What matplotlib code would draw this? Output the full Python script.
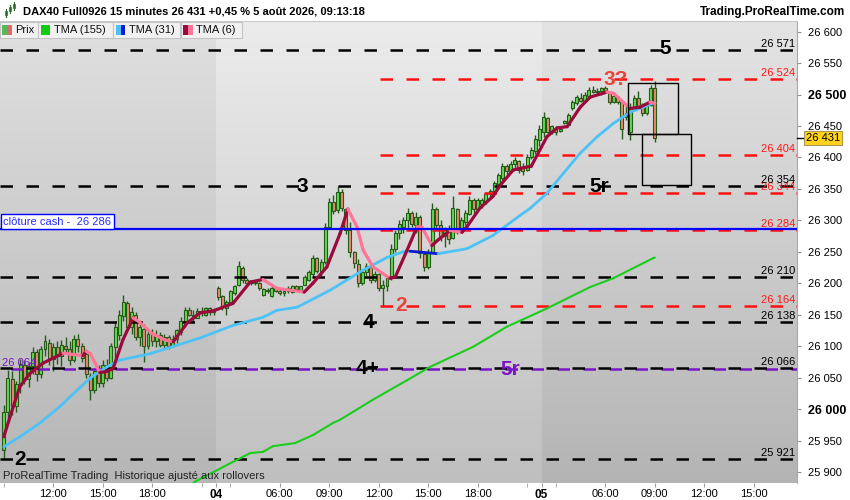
import numpy as np
import matplotlib
matplotlib.use("Agg")
import matplotlib.pyplot as plt
import matplotlib.transforms as mtransforms
from matplotlib.patches import Rectangle
from matplotlib.collections import LineCollection

plt.rcParams['font.family'] = ['Liberation Sans', 'DejaVu Sans']

# ---- bougies 15 min, index 0 = lundi 09:00 ----
opens = [25935, 25995, 26048, 26005, 26038, 26070, 26048, 26068, 26090, 26055,
         26095, 26105, 26080, 26098, 26085, 26100, 26095, 26078, 26112, 26100,
         26088, 26052, 26030, 26060, 26042, 26070, 26050, 26098, 26118, 26148,
         26168, 26130, 26150, 26115, 26128, 26100, 26120, 26108, 26118, 26102,
         26115, 26100, 26112, 26122, 26140, 26158, 26150, 26145, 26156, 26150,
         26160, 26155,
         26192, 26180, 26160, 26170, 26184, 26198, 26225, 26205, 26200, 26202,
         26200, 26182, 26190, 26180, 26192, 26188, 26185, 26188, 26186, 26196,
         26189, 26198, 26206, 26215, 26240, 26218, 26234, 26290, 26330, 26316,
         26345, 26318, 26285, 26250, 26230, 26200, 26218, 26226, 26205, 26214,
         26192, 26196, 26208, 26255, 26280, 26290, 26300, 26312, 26292, 26305,
         26246, 26226, 26250, 26318, 26292, 26275, 26285, 26272, 26318, 26285,
         26298, 26310, 26332, 26318, 26326, 26330, 26342, 26346, 26358, 26368,
         26386, 26378, 26390, 26394, 26385, 26380, 26400, 26410, 26428,
         26440, 26462, 26440, 26446, 26442, 26455, 26452, 26478, 26486, 26494,
         26490, 26498, 26508, 26504, 26505, 26510, 26502, 26488, 26496, 26488,
         26470, 26440, 26478, 26495, 26482, 26470, 26484, 26510]
highs = [26006, 26062, 26060, 26045, 26080, 26078, 26075, 26098, 26095, 26100,
         26118, 26112, 26105, 26108, 26110, 26115, 26108, 26118, 26120, 26105,
         26092, 26058, 26066, 26070, 26078, 26080, 26105, 26137, 26158, 26181,
         26172, 26162, 26155, 26140, 26135, 26126, 26128, 26125, 26122, 26120,
         26118, 26118, 26128, 26146, 26162, 26162, 26158, 26160, 26162, 26162,
         26162, 26160,
         26196, 26182, 26173, 26190, 26198, 26235, 26228, 26208, 26204, 26205,
         26202, 26193, 26192, 26195, 26194, 26192, 26190, 26195, 26198, 26197,
         26196, 26213, 26221, 26245, 26242, 26238, 26296, 26336, 26340, 26354,
         26350, 26320, 26297, 26252, 26238, 26222, 26232, 26228, 26220, 26216,
         26205, 26212, 26262, 26285, 26300, 26305, 26320, 26315, 26314, 26308,
         26252, 26254, 26328, 26322, 26300, 26290, 26292, 26338, 26320, 26306,
         26316, 26338, 26335, 26336, 26336, 26345, 26350, 26363, 26376, 26392,
         26390, 26395, 26400, 26396, 26392, 26405, 26416, 26436, 26452,
         26472, 26465, 26452, 26450, 26448, 26460, 26470, 26492, 26500, 26502,
         26504, 26512, 26513, 26510, 26512, 26514, 26504, 26502, 26498, 26490,
         26486, 26486, 26500, 26505, 26486, 26488, 26516, 26521]
lows = [25921, 25985, 25990, 25995, 26025, 26040, 26035, 26055, 26045, 26050,
        26085, 26070, 26060, 26072, 26068, 26088, 26070, 26075, 26090, 26075,
        26050, 26014, 26025, 26035, 26035, 26045, 26048, 26080, 26110, 26140,
        26125, 26120, 26110, 26100, 26075, 26095, 26100, 26098, 26098, 26095,
        26095, 26098, 26105, 26118, 26130, 26148, 26138, 26145, 26148, 26148,
        26150, 26150,
        26173, 26158, 26149, 26168, 26181, 26196, 26200, 26196, 26198, 26198,
        26190, 26180, 26185, 26178, 26186, 26182, 26180, 26184, 26185, 26190,
        26188, 26198, 26204, 26210, 26216, 26212, 26230, 26286, 26310, 26312,
        26315, 26278, 26242, 26225, 26194, 26198, 26212, 26200, 26202, 26188,
        26164, 26188, 26205, 26250, 26270, 26280, 26285, 26290, 26280, 26240,
        26220, 26222, 26248, 26288, 26268, 26258, 26262, 26270, 26278, 26280,
        26292, 26308, 26312, 26316, 26320, 26326, 26334, 26344, 26355, 26364,
        26372, 26376, 26382, 26375, 26372, 26378, 26398, 26406, 26418,
        26432, 26436, 26438, 26436, 26440, 26454, 26450, 26476, 26484, 26488,
        26488, 26494, 26502, 26500, 26500, 26502, 26485, 26486, 26485, 26430,
        26460, 26428, 26474, 26478, 26466, 26468, 26482, 26425]
closes = [25995, 26050, 26005, 26040, 26072, 26048, 26068, 26090, 26055, 26095,
          26108, 26080, 26098, 26085, 26102, 26095, 26078, 26112, 26100, 26082,
          26055, 26030, 26060, 26042, 26070, 26050, 26100, 26130, 26150, 26170,
          26130, 26155, 26115, 26130, 26100, 26120, 26108, 26118, 26102, 26115,
          26100, 26112, 26125, 26140, 26158, 26150, 26145, 26156, 26152, 26160,
          26155, 26158,
          26178, 26162, 26170, 26188, 26196, 26228, 26205, 26200, 26202, 26200,
          26192, 26191, 26188, 26192, 26188, 26185, 26188, 26192, 26196, 26191,
          26195, 26210, 26218, 26240, 26220, 26234, 26290, 26330, 26315, 26345,
          26320, 26285, 26250, 26232, 26200, 26218, 26228, 26205, 26215, 26192,
          26198, 26208, 26255, 26280, 26295, 26300, 26312, 26295, 26305, 26248,
          26226, 26250, 26318, 26292, 26275, 26285, 26270, 26320, 26285, 26300,
          26312, 26332, 26318, 26332, 26333, 26342, 26346, 26360, 26372, 26386,
          26378, 26390, 26396, 26380, 26378, 26400, 26412, 26430, 26445,
          26465, 26440, 26450, 26440, 26446, 26458, 26468, 26488, 26496, 26490,
          26500, 26508, 26504, 26506, 26510, 26506, 26488, 26498, 26488, 26445,
          26465, 26480, 26495, 26482, 26470, 26484, 26510, 26431]

# moyennes mobiles (index de barre, valeur)
tma6_x = [0, 2.3, 3.9, 6.4, 9.5, 14.4, 16.5, 19.2, 20.0, 21.0, 23.3, 25.0, 26.5,
          28.9, 31.4, 33.0, 36.0, 39.1, 41.1, 44.5, 47.6, 50.8, 55.6, 59.8, 62.9,
          66.3, 72.9, 75.0, 78.4, 81.6, 83.5, 85.7, 87.2, 89.6, 93.7, 95.0, 97.9,
          100.3, 101.5, 103.9, 105.4, 108.3, 111.2, 112.4, 115.6, 118.7, 120.5,
          123.6, 125.5, 128.0, 131.8, 134.3, 136.7, 139.9, 142.3, 146.4, 148.0,
          150.3, 152.0, 154.4, 156.8, 158.0]
tma6_y = [25956, 26004, 26036, 26057, 26073, 26089, 26087, 26085, 26092, 26088,
          26058, 26060, 26064, 26110, 26145, 26138, 26120, 26110, 26107, 26137,
          26153, 26156, 26168, 26202, 26206, 26192, 26186, 26200, 26226, 26279,
          26318, 26290, 26253, 26226, 26208, 26210, 26253, 26290, 26289, 26260,
          26269, 26284, 26281, 26290, 26320, 26338, 26356, 26380, 26383, 26386,
          26433, 26447, 26449, 26480, 26496, 26504, 26502, 26488, 26478, 26480,
          26488, 26486]
tma31_x = [0, 3.9, 8.8, 13.6, 17.8, 20.9, 25.0, 28.2, 35.5, 47.6, 55.6, 62.9,
           66.3, 71.2, 79.2, 87.2, 93.0, 96.9, 98.6, 102.0, 105.4, 107.1, 112.4,
           118.7, 125.3, 127.7, 131.8, 135.7, 139.9, 144.0, 147.9, 152.0, 155.2,
           157.3, 158.0]
tma31_y = [25940, 25956, 25978, 26004, 26030, 26049, 26067, 26078, 26088, 26113,
           26133, 26146, 26157, 26162, 26189, 26221, 26241, 26250, 26251, 26249,
           26247, 26249, 26255, 26276, 26308, 26319, 26343, 26374, 26407, 26433,
           26454, 26472, 26480, 26486, 26487]
tma155_x = [44.0, 46.5, 55.6, 59.8, 62.9, 65.3, 70.7, 75.1, 79.9, 81.6, 89.6,
            97.9, 103.4, 113.9, 122.1, 131.8, 142.3, 147.9, 157.6, 158.0]
tma155_y = [25872, 25885, 25916, 25930, 25932, 25941, 25946, 25959, 25978, 25983,
            26015, 26046, 26067, 26099, 26131, 26160, 26194, 26208, 26240, 26241]

# axe des temps
time_pos = [12, 24, 36, 51.5, 67, 79, 91, 103, 115, 130.5, 146, 158, 170, 182]
time_labels = ['12:00', '15:00', '18:00', '04', '06:00', '09:00', '12:00',
               '15:00', '18:00', '05', '06:00', '09:00', '12:00', '15:00']
extra_ticks = [0, 48, 55, 127, 134]
day_bounds = [51.5, 130.5]

# niveaux
black_levels = [26571, 26354, 26210, 26138, 26066, 25921]
red_levels = [26524, 26404, 26344, 26284, 26164]
red_start = 91.3
purple_level = 26064
cash_close = 26286

# annotations
notes_txt = ['5', '3?', '5r', '3', '2', '4', '4+', '5r', '2']
notes_x = [160.5, 148.6, 144.5, 72.4, 96.4, 88.6, 88.4, 122.9, 3.9]
notes_y = [26573, 26524, 26354, 26354, 26165, 26138, 26064, 26063, 25920]
notes_col = ['black', '#e8443a', 'black', 'black', '#e8443a', 'black', 'black',
             '#7b16c8', 'black']

# rectangles
box_x0 = [151.5, 154.8]
box_x1 = [163.7, 166.7]
box_lo = [26437, 26357]
box_hi = [26518, 26437]

yticks = list(range(25900, 26601, 50))


def fmt(v):
    return f"{int(v):,}".replace(',', ' ')


fig = plt.figure(figsize=(8.5, 5), dpi=100, facecolor='white')
ax = fig.add_axes([0, 17 / 500, 797 / 850, 462 / 500])
xmin, xmax = -0.92, 192.5
ymin, ymax = 25882.5, 26617

# fond degradé par journée
bounds = [xmin] + day_bounds + [xmax]
tops = ['#e0e0e0', '#ececec', '#e4e4e4']
bots = ['#b6b6b6', '#bfbfbf', '#b4b4b4']
for k in range(3):
    t = np.array(matplotlib.colors.to_rgb(tops[k]))
    b = np.array(matplotlib.colors.to_rgb(bots[k]))
    f = np.linspace(0, 1, 200)[:, None]
    grad = (t * (1 - f) + b * f)[:, None, :]
    ax.imshow(grad, extent=(bounds[k], bounds[k + 1], ymin, ymax), aspect='auto',
              origin='upper', zorder=0, interpolation='bilinear')
ax.set_xlim(xmin, xmax)
ax.set_ylim(ymin, ymax)

# bougies
o = np.array(opens)
h = np.array(highs)
l = np.array(lows)
c = np.array(closes)
idx = np.arange(len(o))
up = c >= o
ax.vlines(idx, l, h, color='#265a1a', lw=1, zorder=2)
ax.bar(idx, np.maximum(np.abs(c - o), 1.5), bottom=np.minimum(o, c), width=0.72,
       color=np.where(up, '#63d84f', '#ea8a70'), edgecolor='#265a1a',
       linewidth=0.8, zorder=3)

# niveaux horizontaux
dash = (0, (5, 5.4))
ax.hlines(purple_level, xmin, xmax, color='#7b16c8', lw=1.8, linestyles=[(6, (5, 5.4))], zorder=4)
for lv in red_levels:
    ax.hlines(lv, red_start, xmax, color='#ff1010', lw=1.8, linestyles=[dash], zorder=4)
for lv in black_levels:
    ax.hlines(lv, xmin, xmax, color='black', lw=1.8, linestyles=[dash], zorder=4)


def seg_line(xs, ys, up_col, down_col, lw):
    pts = np.column_stack([xs, ys])
    segs = np.stack([pts[:-1], pts[1:]], axis=1)
    cols = [up_col if b >= a else down_col for a, b in zip(ys[:-1], ys[1:])]
    ax.add_collection(LineCollection(segs, colors=cols, linewidths=lw,
                                     capstyle='round', joinstyle='round', zorder=5))


seg_line(tma155_x, tma155_y, '#1ccc1c', '#1ccc1c', 1.5)
seg_line(tma31_x, tma31_y, '#4cc2f7', '#0a1ad0', 2.0)
seg_line(tma6_x, tma6_y, '#9a0a3c', '#ff7497', 2.3)

ax.axhline(cash_close, color='#0000ff', lw=1.6, zorder=6)

for k in range(len(box_x0)):
    ax.add_patch(Rectangle((box_x0[k], box_lo[k]), box_x1[k] - box_x0[k],
                           box_hi[k] - box_lo[k], fill=False, ec='black', lw=1, zorder=6))

# etiquettes des niveaux
trans_lab = mtransforms.blended_transform_factory(ax.transAxes, ax.transData)
for lv in red_levels:
    ax.annotate(fmt(lv), xy=(1, lv), xycoords=trans_lab, xytext=(-1.5, 2.2),
                textcoords='offset points', ha='right', va='baseline',
                fontsize=8, color='#ff1a1a', zorder=7)
for lv in black_levels:
    ax.annotate(fmt(lv), xy=(1, lv), xycoords=trans_lab, xytext=(-1.5, 2.2),
                textcoords='offset points', ha='right', va='baseline',
                fontsize=8, color='black', zorder=7)
ax.annotate(fmt(purple_level), xy=(0, purple_level), xycoords=trans_lab,
            xytext=(1.5, 2.2), textcoords='offset points', ha='left',
            va='baseline', fontsize=8, color='#7b16c8', zorder=7)
ax.annotate('clôture cash -  ' + fmt(cash_close), xy=(0, cash_close),
            xycoords=trans_lab, xytext=(2.2, 3.2), textcoords='offset points',
            ha='left', va='baseline', fontsize=8, color='#2a2aff', zorder=8,
            bbox=dict(boxstyle='square,pad=0.22', fc='white', ec='#0000ff', lw=1))

for t, x, y, col in zip(notes_txt, notes_x, notes_y, notes_col):
    ax.text(x, y, t, ha='center', va='center', fontsize=15, fontweight='bold',
            color=col, zorder=9)

# axe des prix a droite
ax.yaxis.tick_right()
ax.set_yticks(yticks)
ax.set_yticklabels([fmt(v) for v in yticks])
ax.tick_params(axis='y', length=3, color='#909090', labelsize=8, pad=5)
for lab, v in zip(ax.get_yticklabels(), yticks):
    if v % 500 == 0:
        lab.set_fontweight('bold')
        lab.set_fontsize(9)

ax.set_xticks(time_pos)
ax.set_xticklabels(time_labels)
ax.tick_params(axis='x', length=3, color='#a0a0a0', labelsize=8, pad=1.5)
for lab, t in zip(ax.get_xticklabels(), time_labels):
    if ':' not in t:
        lab.set_fontweight('bold')
        lab.set_fontsize(8.5)
ax.set_xticks(extra_ticks, minor=True)
ax.tick_params(axis='x', which='minor', length=3, color='#a0a0a0')

for s in ['top', 'left', 'bottom']:
    ax.spines[s].set_visible(False)
ax.spines['right'].set_color('#a8a8a8')

# etiquette du dernier cours
ax.annotate(fmt(closes[-1]), xy=(1, closes[-1]), xycoords=trans_lab,
            xytext=(6.2, 0), textcoords='offset points', ha='left', va='center',
            fontsize=8, color='black', annotation_clip=False, zorder=9,
            bbox=dict(boxstyle='square,pad=0.18', fc='#ffd21f', ec='#a89a50', lw=0.8))
ax.plot([1, 1.0075], [closes[-1], closes[-1]], transform=trans_lab, color='black',
        lw=1, clip_on=False, zorder=9)

# bandeau du haut, legende, mention en bas (coordonnees pixels)
ov = fig.add_axes([0, 0, 1, 1], zorder=10)
ov.set_xlim(0, 850)
ov.set_ylim(500, 0)
ov.axis('off')
ov.patch.set_alpha(0)
ov.add_patch(Rectangle((0, 0), 850, 21, fc='white', ec='none'))
ov.plot([0, 797], [21, 21], color='#c8c8c8', lw=0.8)
# petite icone
for xx, y0, y1, b0, b1, col in [(6, 9, 17, 11, 15, '#3aa83a'), (10, 5, 13, 7, 11, '#3aa83a'),
                                 (14, 2, 10, 4, 8, '#3aa83a')]:
    ov.plot([xx, xx], [y0, y1], color='#2a6a2a', lw=0.8)
    ov.add_patch(Rectangle((xx - 1.3, b0), 2.6, b1 - b0, fc=col, ec='#2a6a2a', lw=0.5))
ov.text(23, 11.5, 'DAX40 Full0926 15 minutes 26 431 +0,45 % 5 août 2026, 09:13:18',
        fontsize=8, fontweight='bold', va='center', ha='left')
ov.text(845, 11.5, 'Trading.ProRealTime.com', fontsize=8.5, fontweight='bold',
        va='center', ha='right')

leg = [('Prix', '#55b85a', '#e06a6a', 0, 37.7),
       ('TMA (155)', '#11cc11', '#11cc11', 38.2, 112.8),
       ('TMA (31)', '#4cc2f7', '#0a1ad0', 113.3, 180.3),
       ('TMA (6)', '#9a0a3c', '#ff7497', 180.8, 242)]
for name, c1, c2, x0, x1 in leg:
    ov.add_patch(Rectangle((x0, 21.7), x1 - x0, 16.6, fc='#f1f1f1', ec='#c4c4c4', lw=0.8))
    ov.add_patch(Rectangle((x0 + 2.5, 25.2), 4.8, 9.6, fc=c1, ec='none'))
    ov.add_patch(Rectangle((x0 + 7.3, 25.2), 4.8, 9.6, fc=c2, ec='none'))
    ov.text(x0 + 15.5, 30.3, name, fontsize=8, va='center', ha='left', color='#111111')

ov.text(3, 476, 'ProRealTime Trading  Historique ajusté aux rollovers', fontsize=8,
        va='center', ha='left', color='#222222')

fig.savefig('out.png', dpi=100, facecolor='white')
